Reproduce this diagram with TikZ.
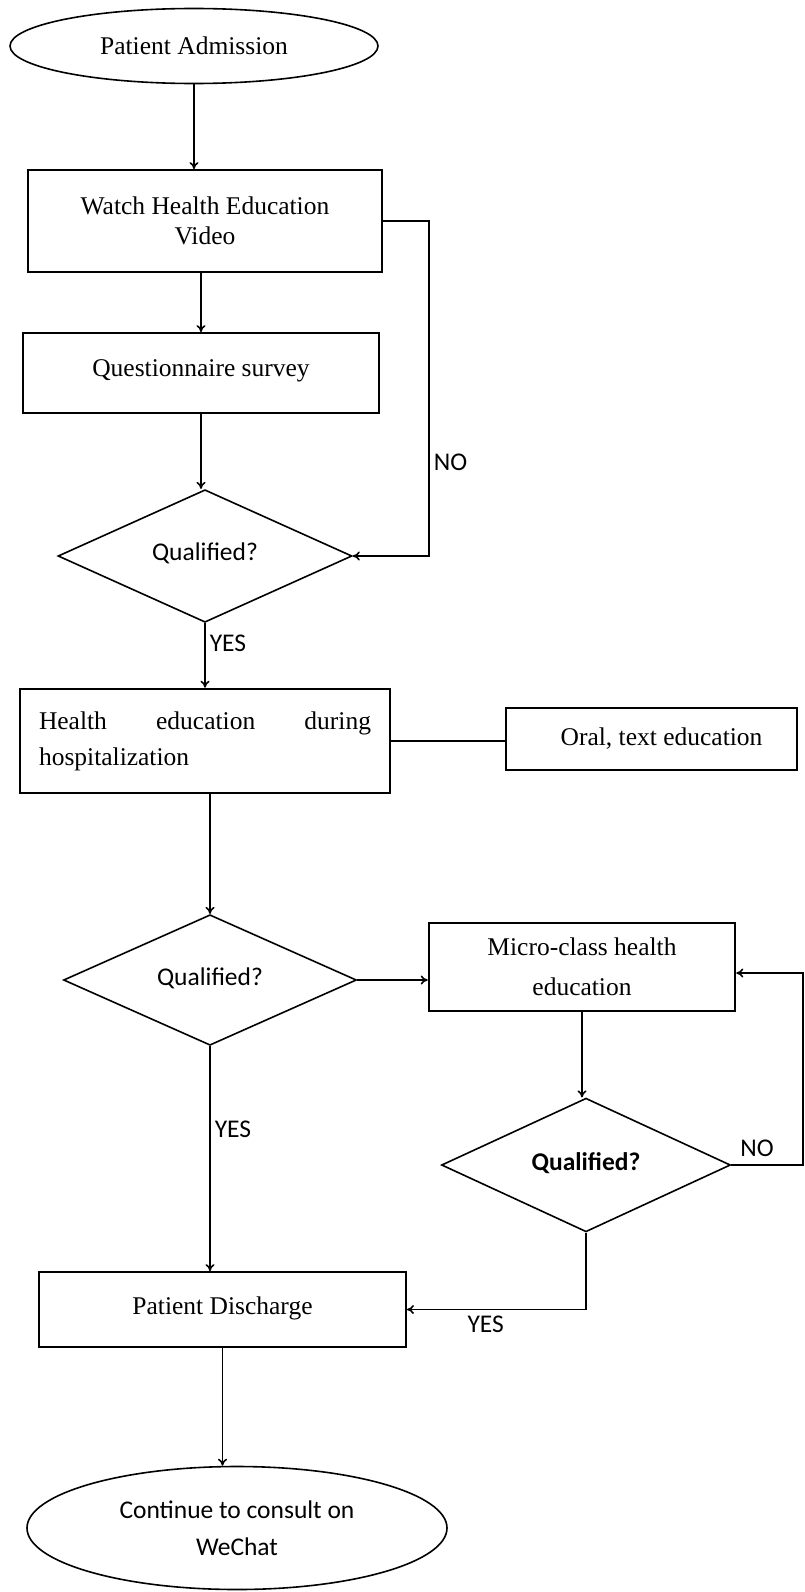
\documentclass[tikz,border=0pt]{standalone}
\usepackage{fontspec}
\setmainfont{Liberation Serif}
\newfontfamily\calibri{Carlito}
\usetikzlibrary{shapes.geometric, arrows.meta}

\newcommand{\serifbig}{\fontsize{25.5}{30}\selectfont}
\newcommand{\sansbig}{\calibri\fontsize{25.5}{30}\selectfont}

\tikzset{
  flowbox/.style={rectangle, draw, line width=1.9pt, inner sep=0pt, font=\serifbig, align=center},
  termnode/.style={ellipse, draw, line width=1.6pt, inner sep=0pt, align=center},
  decision/.style={diamond, draw, line width=1.6pt, inner sep=0pt, font=\sansbig},
  arr/.style={-{To[length=7pt, width=9pt]}, line width=1.6pt},
  plain/.style={line width=1.6pt},
  lbl/.style={font=\sansbig, inner sep=4pt}
}

\begin{document}
\begin{tikzpicture}[x=1pt, y=-1pt]
  \useasboundingbox (0, 0) rectangle (805, 1592);
  % Nodes
  \node (admit) [termnode, minimum width=368pt, minimum height=75pt, font=\serifbig] at (194, 46) {Patient Admission};
  \node (watch) [flowbox, minimum width=354pt, minimum height=102pt] at (205, 221) {Watch Health Education\\Video};
  \node (quest) [flowbox, minimum width=356pt, minimum height=80pt] at (201, 373) {\raisebox{10pt}{Questionnaire survey}};
  \node (qual1) [decision, minimum width=294pt, minimum height=129pt] at (205, 556) {\raisebox{9pt}{Qualified?}};
  \node (health) [flowbox, line width=2.6pt, minimum width=370pt, minimum height=104pt, text width=332pt, align=left, font=\fontsize{25.5}{36}\selectfont] at (205, 741) {Health\hfill education\hfill during\\hospitalization};
  \node (oral) [flowbox, minimum width=291pt, minimum height=62pt] at (651.5, 739) {\hspace*{20pt}Oral, text education};
  \node (qual2) [decision, minimum width=293pt, minimum height=129pt] at (210, 980) {\raisebox{7pt}{Qualified?}};
  \node (micro) [flowbox, line width=2.6pt, minimum width=306pt, minimum height=88pt, font=\fontsize{25.5}{40}\selectfont] at (582, 967) {Micro-class health\\education};
  \node (qual3) [decision, minimum width=289pt, minimum height=130pt, font=\sansbig\bfseries] at (586, 1165) {\raisebox{7pt}{Qualified?}};
  \node (discharge) [flowbox, minimum width=367pt, minimum height=75pt] at (222.5, 1309.5) {\raisebox{8pt}{Patient Discharge}};
  \node (consult) [termnode, minimum width=420pt, minimum height=123pt, font=\calibri\fontsize{25.5}{37}\selectfont] at (237, 1528) {Continue to consult on\\WeChat};
  % Corners of the loops
  \coordinate (noturn) at (429, 221);
  \coordinate (loopR) at (803, 973);
  % Arrows
  \draw[arr] (admit.south) -- (admit.south |- watch.north);
  \draw[arr] (quest.north |- watch.south) -- (quest.north);
  \draw[arr] (quest.south) -- (quest.south |- qual1.north);
  \draw[arr] (watch.east) -- (noturn) |- (qual1.east) node[lbl, pos=0.36, right] {NO};
  \draw[arr] (qual1.south) -- (qual1.south |- health.north) node[lbl, pos=0.32, right] {YES};
  \draw[plain] (health.east) -- (health.east -| oral.west);
  \draw[arr] (qual2.north |- health.south) -- (qual2.north);
  \draw[arr] (qual2.east) -- (qual2.east -| micro.west);
  \draw[arr] (qual2.south) -- (qual2.south |- discharge.north) node[lbl, pos=0.37, right] {YES};
  \draw[arr] (micro.south) -- (micro.south |- qual3.north);
  \draw[arr] (qual3.east) -| (loopR) node[lbl, pos=0.18, above, yshift=4pt] {NO} -- (loopR -| micro.east);
  \draw[arr] (qual3.south) |- (discharge.east) node[lbl, pos=0.78, below, yshift=-2pt] {YES};
  \draw[arr] (discharge.south) -- (discharge.south |- consult.north);
\end{tikzpicture}
\end{document}
